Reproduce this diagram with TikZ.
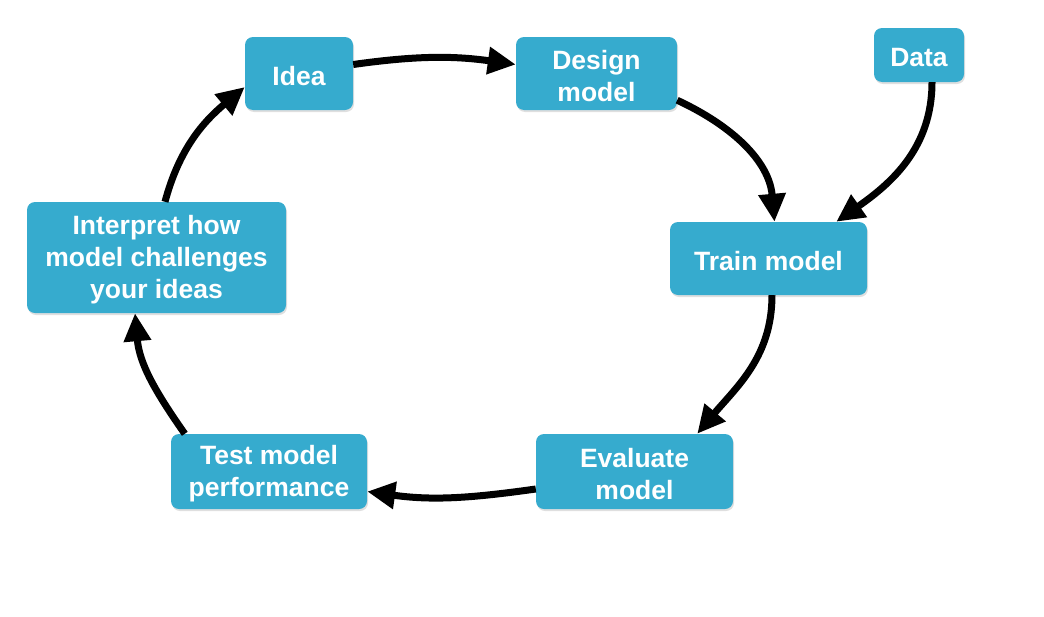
\documentclass[tikz,border=0pt]{standalone}
\usepackage{fontspec}
\setmainfont{Liberation Sans}
\usetikzlibrary{arrows.meta,shadows}
\definecolor{boxblue}{HTML}{36ABCE}
\newcommand{\tstrut}{\rule{0pt}{23.5pt}}
\begin{document}
\begin{tikzpicture}[x=1pt,y=-1pt,
  stepbox/.style={fill=boxblue, rounded corners=8pt, inner sep=0pt,
    text=white, font=\fontsize{26.5}{32}\selectfont\bfseries, align=center,
    drop shadow={opacity=0.25, shadow xshift=1pt, shadow yshift=-2pt}},
  flow/.style={line width=7pt, -{Triangle[length=28pt,width=26pt]}}]
\useasboundingbox (0,0) rectangle (1044,616);
\node[stepbox, minimum width=108pt, minimum height=73pt] (idea) at (299,73.5) {\tstrut Idea};
\node[stepbox, minimum width=161pt, minimum height=73pt] (design) at (596.5,73.5) {\tstrut Design\\model};
\node[stepbox, minimum width=90pt, minimum height=54pt] (data) at (919,55) {\tstrut Data};
\node[stepbox, minimum width=197pt, minimum height=73pt] (train) at (768.5,258.5) {\tstrut Train model};
\node[stepbox, minimum width=197pt, minimum height=75pt] (eval) at (634.5,471.5) {\tstrut Evaluate\\model};
\node[stepbox, minimum width=196pt, minimum height=75pt] (test) at (269,471.5) {\tstrut Test model\\performance};
\node[stepbox, minimum width=259pt, minimum height=111pt] (interp) at (156.5,257.5) {\tstrut Interpret how\\model challenges\\your ideas};

\draw[flow] ([yshift=9pt]idea.east) to[out=8, in=172] ([yshift=9pt]design.west);
\draw[flow] ([yshift=10pt]design.south east) to[out=-25, in=95] ([xshift=6pt]train.north);
\draw[flow] ([xshift=13pt]data.south) to[out=-90, in=35] ([xshift=-31pt]train.north east);
\draw[flow] ([xshift=3.5pt]train.south) to[out=-90, in=50] ([xshift=-36pt]eval.north east);
\draw[flow] ([yshift=-17.5pt]eval.west) to[out=188, in=-8] ([yshift=-20pt]test.east);
\draw[flow] ([xshift=14pt]test.north west) to[out=125, in=-85] ([xshift=-21.5pt]interp.south);
\draw[flow] ([xshift=8.5pt]interp.north) to[out=75, in=220] ([yshift=-13.5pt]idea.west);
\end{tikzpicture}
\end{document}
